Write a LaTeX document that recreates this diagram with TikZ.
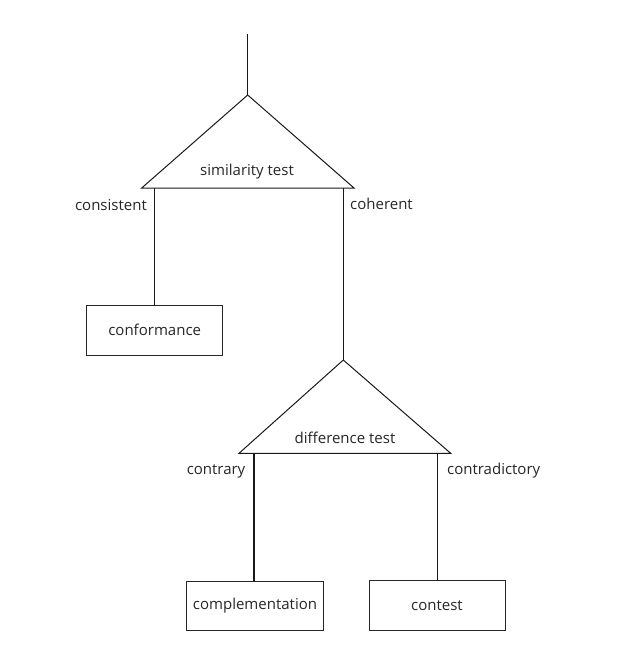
\documentclass[tikz,border=0pt]{standalone}
\usepackage{fontspec}
\setmainfont{Open Sans}
\begin{document}
\begin{tikzpicture}[x=1pt,y=-1pt,
  lbl/.style={font=\fontsize{15}{18}\selectfont, text=black!85, inner sep=0pt},
  outbox/.style={draw=black!85, line width=1pt, inner sep=0pt, font=\fontsize{15}{18}\selectfont, text=black!85},
  tri/.style={draw=black!90, line width=1pt, line join=miter},
  stem/.style={draw=black!90, line width=1.5pt}]
\useasboundingbox (0,0) rectangle (624,651);
% first test
\coordinate (top) at (247.7,34);
\coordinate (a1) at (247.7,95);
\coordinate (l1) at (141.7,188);
\coordinate (r1) at (354,188);
\coordinate (b1l) at (154.3,188);
\coordinate (b1r) at (343.3,188);
\draw[tri] (a1) -- (l1) -- (r1) -- cycle;
\draw[stem] (top) -- (a1);
\node[lbl] (sim) at (247,172) {similarity test};
\node[lbl, anchor=east] (cons) at (147,205) {consistent};
\node[lbl, anchor=west] (coh) at (350,204) {coherent};
\node[outbox, minimum width=136pt, minimum height=50pt] (conf) at (154.7,330) {conformance};
\draw[stem] (b1l) -- (b1l |- conf.north);
% second test
\coordinate (a2) at (343.3,360);
\coordinate (l2) at (239,453.3);
\coordinate (r2) at (450.7,453.3);
\coordinate (b2l) at (254,453.3);
\coordinate (b2r) at (437.3,453.3);
\draw[stem] (b1r) -- (a2);
\draw[tri] (a2) -- (l2) -- (r2) -- cycle;
\node[lbl] (diff) at (345,438) {difference test};
\node[lbl, anchor=east] (contr) at (245.5,471) {contrary};
\node[lbl, anchor=west] (contd) at (447,471) {contradictory};
\node[outbox, minimum width=136.6pt, minimum height=49.5pt] (compl) at (255,606) {complementation};
\node[outbox, minimum width=136pt, minimum height=49.5pt] (cont) at (437,605.5) {contest};
\draw[stem] (b2l) -- (b2l |- compl.north);
\draw[stem] (b2r) -- (b2r |- cont.north);
\end{tikzpicture}
\end{document}
